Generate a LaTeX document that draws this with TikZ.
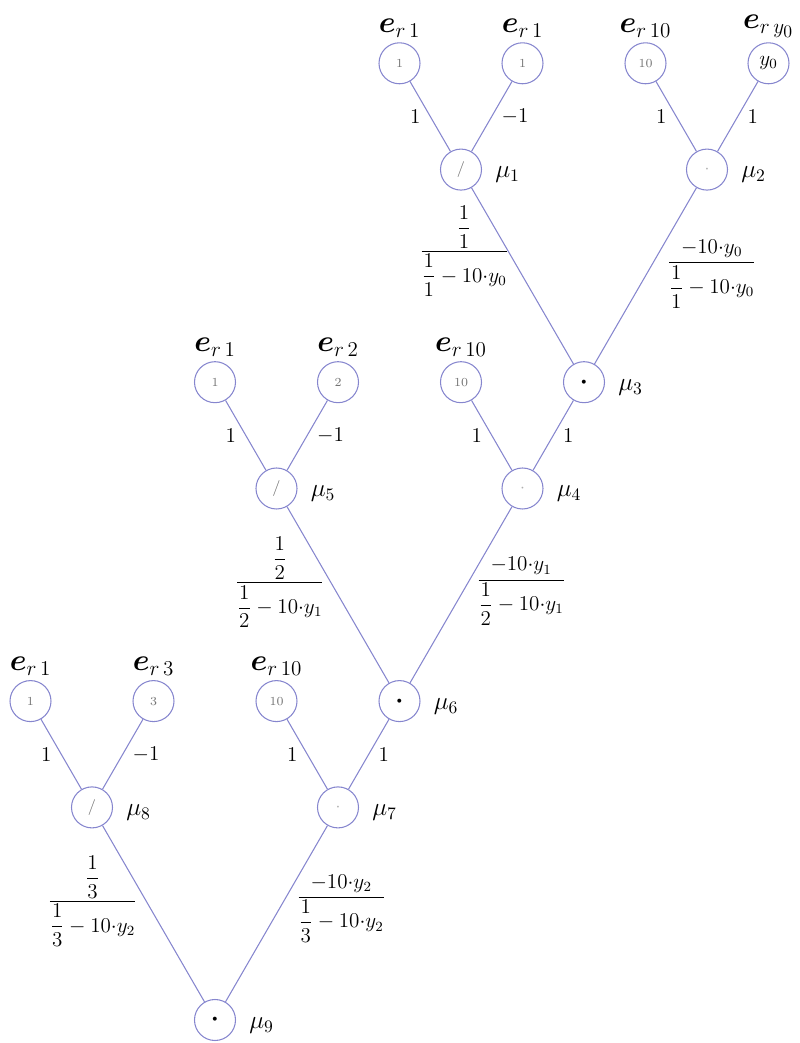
\documentclass[tikz,border=0pt]{standalone}
\usepackage{amsmath,amssymb}
\usepackage{xcolor}
\usepackage{tikz}
\usetikzlibrary{positioning}

\definecolor{edgeblue}{RGB}{134,134,206}
\definecolor{leafgray}{RGB}{115,115,115}
\definecolor{dotgray}{RGB}{175,175,175}

\begin{document}
\begin{tikzpicture}[node distance=2.126cm and 1.23cm, on grid, main/.style = {circle, draw=edgeblue, line width=0.6pt, fill=none, minimum size=8.2mm, inner sep=0pt}, leaf/.style = {main, font=\scriptsize, text=leafgray}, op/.style = {main, label={[font=\Large, text=black, label distance=4pt, yshift=-3pt]right:$\mu_{#1}$}}, src/.style = {label={[font=\LARGE, text=black, inner sep=0pt, label distance=2.5pt]above:$\boldsymbol{e}_{r\,#1}$}}, wgt/.style = {font=\large, text=black}, every edge/.append style={draw=edgeblue, line width=0.6pt}]

\useasboundingbox (0,0) rectangle (16,20.86);

\node[op=9] (m9) at (4.30,0.46) {\Large$\boldsymbol{\cdot}$};
\node[op=8, text=leafgray] (m8) [above left=4.252cm and 2.46cm of m9] {\small$/$};
\node[op=7, text=dotgray] (m7) [above right=4.252cm and 2.46cm of m9] {$\cdot$};
\node[leaf, src=1] (c1) [above left=of m8] {1};
\node[leaf, src=3] (c2) [above right=of m8] {3};
\node[leaf, src=10] (c3) [above left=of m7] {10};
\node[op=6] (m6) [above right=of m7] {\Large$\boldsymbol{\cdot}$};

\node[op=5, text=leafgray] (m5) [above left=4.252cm and 2.46cm of m6] {\small$/$};
\node[op=4, text=dotgray] (m4) [above right=4.252cm and 2.46cm of m6] {$\cdot$};
\node[leaf, src=1] (b1) [above left=of m5] {1};
\node[leaf, src=2] (b2) [above right=of m5] {2};
\node[leaf, src=10] (b3) [above left=of m4] {10};
\node[op=3] (m3) [above right=of m4] {\Large$\boldsymbol{\cdot}$};

\node[op=1, text=leafgray] (m1) [above left=4.252cm and 2.46cm of m3] {\small$/$};
\node[op=2, text=dotgray] (m2) [above right=4.252cm and 2.46cm of m3] {$\cdot$};
\node[leaf, src=1] (a1) [above left=of m1] {1};
\node[leaf, src=1] (a2) [above right=of m1] {1};
\node[leaf, src=10] (a3) [above left=of m2] {10};
\node[main, src=y_0, font=\large] (a4) [above right=of m2] {$y_0$};

\path
    (a1) edge node[wgt, left=2pt] {$1$} (m1)
    (a2) edge node[wgt, right=2pt] {$-1$} (m1)
    (a3) edge node[wgt, left=2pt] {$1$} (m2)
    (a4) edge node[wgt, right=2pt] {$1$} (m2)
    (m1) edge node[wgt, pos=.36, left=-4pt] {$\dfrac{\dfrac{1}{1}}{\dfrac{1}{1}-10{\cdot}y_0}$} (m3)
    (m2) edge node[wgt, pos=.49, right=8pt] {$\dfrac{-10{\cdot}y_0}{\dfrac{1}{1}-10{\cdot}y_0}$} (m3)
    (b1) edge node[wgt, left=2pt] {$1$} (m5)
    (b2) edge node[wgt, right=2pt] {$-1$} (m5)
    (b3) edge node[wgt, left=2pt] {$1$} (m4)
    (m3) edge node[wgt, right=2pt] {$1$} (m4)
    (m5) edge node[wgt, pos=.43, left] {$\dfrac{\dfrac{1}{2}}{\dfrac{1}{2}-10{\cdot}y_1}$} (m6)
    (m4) edge node[wgt, pos=.48, right=4pt] {$\dfrac{-10{\cdot}y_1}{\dfrac{1}{2}-10{\cdot}y_1}$} (m6)
    (c1) edge node[wgt, left=2pt] {$1$} (m8)
    (c2) edge node[wgt, right=2pt] {$-1$} (m8)
    (c3) edge node[wgt, left=2pt] {$1$} (m7)
    (m6) edge node[wgt, right=2pt] {$1$} (m7)
    (m8) edge node[wgt, pos=.43, left=1.5pt] {$\dfrac{\dfrac{1}{3}}{\dfrac{1}{3}-10{\cdot}y_2}$} (m9)
    (m7) edge node[wgt, pos=.47, right=6pt] {$\dfrac{-10{\cdot}y_2}{\dfrac{1}{3}-10{\cdot}y_2}$} (m9);
\end{tikzpicture}
\end{document}
